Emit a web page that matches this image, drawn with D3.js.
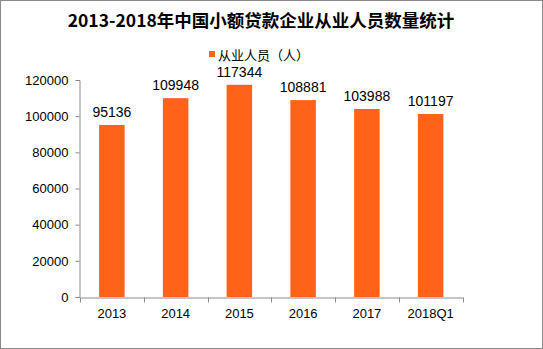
<!DOCTYPE html>
<html>
<head>
<meta charset="utf-8">
<script src="https://cdn.jsdelivr.net/npm/d3@7"></script>
<style>
  html, body { margin: 0; padding: 0; background: #fff; }
  svg { display: block; }
</style>
</head>
<body>
<svg id="chart" width="543" height="349"></svg>
<script>
// Staff counts of China's microcredit companies, by year
const years = ["2013", "2014", "2015", "2016", "2017", "2018Q1"];
const staff = [95136, 109948, 117344, 108881, 103988, 101197];
const yTicks = [0, 20000, 40000, 60000, 80000, 100000, 120000];
const titleText = "2013-2018年中国小额贷款企业从业人员数量统计";
const seriesName = "从业人员（人）";

const W = 543, H = 349;
const margin = { left: 80, right: 80.5, top: 80, bottom: 52 };
const svg = d3.select("#chart");
const barColor = "#ff6319";
const axisColor = "#8c8c8c";
const font = "'Liberation Sans', Arial, sans-serif";

// frame
svg.append("rect")
  .attr("x", 0.5).attr("y", 0.5)
  .attr("width", W - 1).attr("height", H - 1)
  .attr("fill", "#fff").attr("stroke", "#8a8a8a");

const x = d3.scaleBand()
  .domain(years)
  .range([margin.left, W - margin.right])
  .paddingInner(0.6).paddingOuter(0.3);

const y = d3.scaleLinear()
  .domain([0, 120000])
  .range([H - margin.bottom, margin.top]);

// title
svg.append("text")
  .attr("x", 261).attr("y", 27)
  .attr("text-anchor", "middle")
  .attr("font-family", "'Noto Sans CJK SC', sans-serif")
  .attr("font-weight", "bold")
  .attr("font-size", 17.5)
  .attr("fill", "#000")
  .text(titleText);

// legend
svg.append("rect")
  .attr("x", 209).attr("y", 51).attr("width", 6).attr("height", 6)
  .attr("fill", barColor);
svg.append("text")
  .attr("x", 218).attr("y", 59.5)
  .attr("font-family", "'Noto Sans CJK SC', sans-serif")
  .attr("font-size", 13)
  .attr("fill", "#000")
  .text(seriesName);

// bars
svg.append("g").selectAll("rect")
  .data(staff)
  .join("rect")
  .attr("x", (d, i) => x(years[i]))
  .attr("y", d => y(d))
  .attr("width", x.bandwidth())
  .attr("height", d => y(0) - y(d))
  .attr("fill", barColor);

// value labels
svg.append("g").selectAll("text")
  .data(staff)
  .join("text")
  .attr("x", (d, i) => x(years[i]) + x.bandwidth() / 2)
  .attr("y", d => y(d) - 8)
  .attr("text-anchor", "middle")
  .attr("font-family", font)
  .attr("font-size", 14)
  .attr("fill", "#000")
  .text(d => d);

// y axis
const yAxis = svg.append("g")
  .attr("transform", `translate(${margin.left - 0.5},0)`)
  .call(d3.axisLeft(y).tickValues(yTicks).tickSize(4).tickPadding(7).tickFormat(d3.format("d")));
yAxis.select(".domain").attr("stroke", axisColor);
yAxis.selectAll(".tick line").attr("stroke", axisColor);
yAxis.selectAll(".tick text")
  .attr("font-family", font).attr("font-size", 13).attr("fill", "#000");

// x axis
const xAxis = svg.append("g")
  .attr("transform", `translate(0,${H - margin.bottom + 0.5})`)
  .call(d3.axisBottom(x).tickSize(0).tickPadding(11));
xAxis.select(".domain").attr("stroke", axisColor);
xAxis.selectAll(".tick text")
  .attr("font-family", font).attr("font-size", 13).attr("fill", "#000");
// category separators
const edges = d3.range(years.length + 1).map(i => margin.left + i * (W - margin.left - margin.right) / years.length);
xAxis.selectAll("line.sep")
  .data(edges)
  .join("line")
  .attr("class", "sep")
  .attr("x1", d => Math.round(d) + 0.5).attr("x2", d => Math.round(d) + 0.5)
  .attr("y1", 0).attr("y2", 5)
  .attr("stroke", axisColor);
</script>
</body>
</html>
